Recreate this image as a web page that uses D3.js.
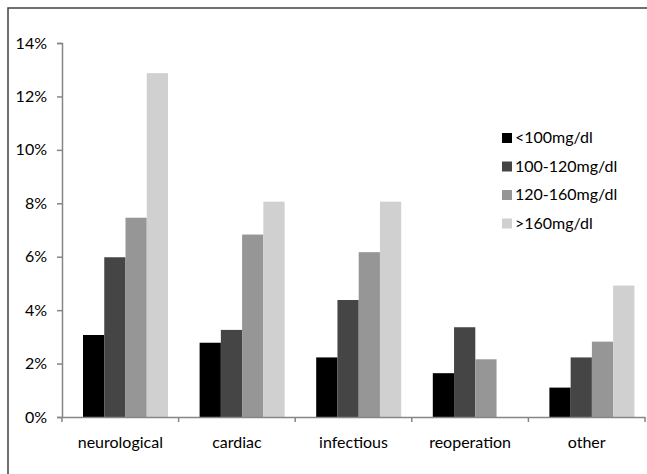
<!DOCTYPE html>
<html lang="en">

<head>
    <meta charset="UTF-8" />
    <script src="https://d3js.org/d3.v7.min.js"></script>
    <title>glucose chart</title>
    <style>
        body { margin: 0; background: #fff; }
        text { font-family: Lato, "Open Sans", sans-serif; fill: #000; }
    </style>
</head>

<body>
    <script>
        const width = 647,
            height = 474

        // data
        const categories = ['neurological', 'cardiac', 'infectious', 'reoperation', 'other']
        const seriesNames = ['<100mg/dl', '100-120mg/dl', '120-160mg/dl', '>160mg/dl']
        const below100 = [3.07, 2.78, 2.23, 1.64, 1.10]
        const from100to120 = [5.98, 3.26, 4.38, 3.36, 2.23]
        const from120to160 = [7.46, 6.83, 6.17, 2.16, 2.82]
        const above160 = [12.87, 8.06, 8.06, 0, 4.92]
        const yTicks = [0, 2, 4, 6, 8, 10, 12, 14]
        const colors = ['#000000', '#454545', '#969696', '#d0d0d0']

        const series = [below100, from100to120, from120to160, above160]

        const svg = d3.select('body').append('svg').attr('width', width).attr('height', height)

        // outer frame (only top and left edges fall inside the picture)
        svg.append('rect')
            .attr('x', 8).attr('y', 8)
            .attr('width', 660).attr('height', 480)
            .attr('fill', 'none')
            .attr('stroke', '#404040')
            .attr('stroke-width', 1.5)

        const y = d3.scaleLinear().domain([0, 14]).range([417, 43])
        const x0 = d3.scaleBand().domain(categories).range([62, 645]).padding(0)
        const x1 = d3.scaleBand().domain(d3.range(4)).range([21, 106]).padding(0)

        // bars
        const groups = svg.selectAll('g.grp').data(categories).enter()
            .append('g')
            .attr('class', 'grp')
            .attr('transform', d => 'translate(' + x0(d) + ',0)')

        groups.selectAll('rect')
            .data((c, ci) => series.map((s, si) => ({ si: si, v: s[ci] })))
            .enter()
            .filter(d => d.v > 0)
            .append('rect')
            .attr('x', d => x1(d.si))
            .attr('y', d => y(d.v))
            .attr('width', x1.bandwidth())
            .attr('height', d => y(0) - y(d.v))
            .attr('fill', d => colors[d.si])

        // y axis
        const yAxis = svg.append('g')
            .attr('transform', 'translate(62,0)')
            .call(d3.axisLeft(y).tickValues(yTicks).tickFormat(d => d + '%').tickSize(5).tickPadding(10))
        yAxis.select('.domain').attr('stroke', '#868686').attr('stroke-width', 1.5)
        yAxis.selectAll('.tick line').attr('stroke', '#868686').attr('stroke-width', 1.5)
        yAxis.selectAll('text').attr('font-size', 16).attr('font-family', 'Lato')

        // x axis
        const xAxis = svg.append('g')
            .attr('transform', 'translate(0,417)')
            .call(d3.axisBottom(x0).tickSize(0).tickSizeOuter(0).tickPadding(20))
        xAxis.select('.domain').attr('stroke', '#868686').attr('stroke-width', 1.5)
        xAxis.selectAll('text').attr('font-size', 16).attr('font-family', 'Lato')

        // category divider ticks
        const edges = categories.map(c => x0(c)).concat([x0(categories[4]) + x0.bandwidth()])
        svg.append('g').selectAll('line').data(edges).enter()
            .append('line')
            .attr('x1', d => d).attr('x2', d => d)
            .attr('y1', 417).attr('y2', 422)
            .attr('stroke', '#868686')
            .attr('stroke-width', 1.5)

        // legend
        const legend = svg.append('g')
            .selectAll('g').data(seriesNames).enter()
            .append('g')
            .attr('transform', (d, i) => 'translate(502,' + (133 + i * 28.5) + ')')
        legend.append('rect')
            .attr('width', 10).attr('height', 10)
            .attr('fill', (d, i) => colors[i])
        legend.append('text')
            .attr('x', 13).attr('y', 10)
            .attr('font-size', 16)
            .text(d => d)
    </script>
</body>

</html>
